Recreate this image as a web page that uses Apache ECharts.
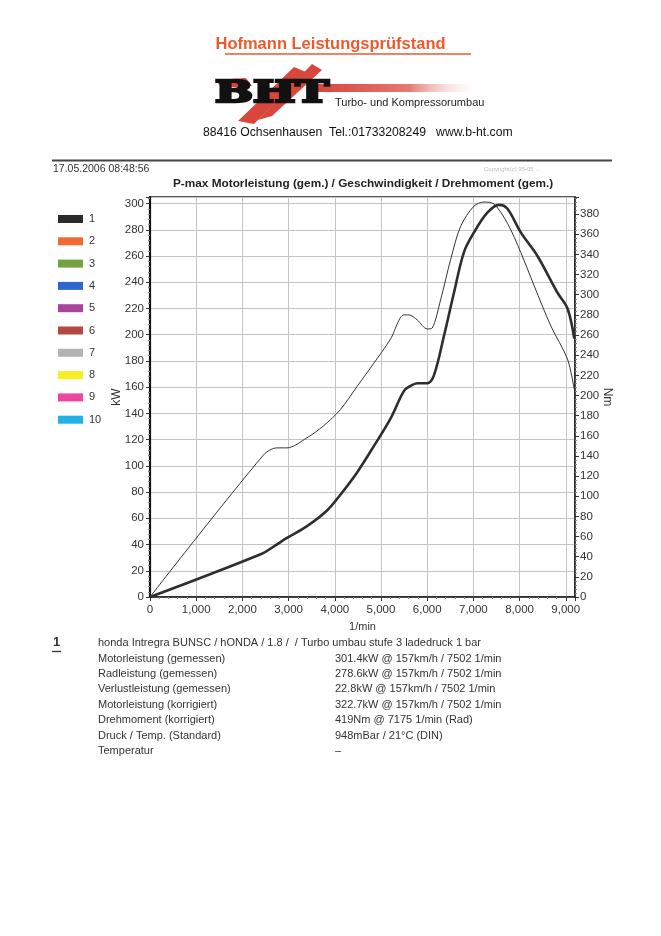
<!DOCTYPE html>
<html>
<head>
<meta charset="utf-8">
<script src="https://cdn.jsdelivr.net/npm/echarts@6/dist/echarts.min.js"></script>
<style>
html,body{margin:0;padding:0;background:#fff;}
#c{width:661px;height:936px;}
</style>
</head>
<body>
<div id="c"></div>
<script>
// ---- data ----
var powerRpm = [0, 2422, 2700, 2965, 3398, 3832, 4121, 4483, 4845, 5206, 5495, 5640, 5785, 6001, 6146, 6363, 6580, 6797, 7014, 7303, 7556, 7737, 8026, 8387, 8821, 9038, 9183];
var powerKw  = [0, 33, 39, 45, 54, 66, 78, 95, 115, 136, 157, 161, 163, 163, 169, 199, 232, 263, 278, 293, 299, 296, 278, 260, 232, 220, 197];
var torqueRpm = [0, 2458, 2747, 2965, 3398, 3760, 4121, 4483, 4845, 5206, 5495, 5604, 5784, 6001, 6110, 6291, 6508, 6725, 7014, 7231, 7448, 7737, 8026, 8315, 8677, 9038, 9183];
var torqueNm  = [0, 141, 148, 148, 158, 170, 186, 209, 232, 256, 280, 280, 275, 266, 267, 295, 335, 368, 388, 392, 390, 371, 342, 309, 269, 236, 206];
var legendNames  = ['1', '2', '3', '4', '5', '6', '7', '8', '9', '10'];
var legendColors = ['#2b2b2b', '#f06a32', '#74a23e', '#2f66cf', '#a8449a', '#b34a42', '#b4b4b4', '#f7ef24', '#ef44a2', '#22b2e6'];
var infoLabels = ['Motorleistung (gemessen)', 'Radleistung (gemessen)', 'Verlustleistung (gemessen)', 'Motorleistung (korrigiert)', 'Drehmoment (korrigiert)', 'Druck / Temp. (Standard)', 'Temperatur'];
var infoValues = ['301.4kW @ 157km/h / 7502 1/min', '278.6kW @ 157km/h / 7502 1/min', '22.8kW @ 157km/h / 7502 1/min', '322.7kW @ 157km/h / 7502 1/min', '419Nm @ 7175 1/min (Rad)', '948mBar / 21°C (DIN)', '–'];
var runTitle = 'honda Intregra BUNSC / hONDA / 1.8 /  / Turbo umbau stufe 3 ladedruck 1 bar';

var F = '"Liberation Sans", Arial, sans-serif';
var chart = echarts.init(document.getElementById('c'), null, {renderer: 'canvas'});

function pairs(xs, ys) { return xs.map(function (x, i) { return [x, ys[i]]; }); }

var series = [
  {name: legendNames[0], type: 'line', yAxisIndex: 0, data: pairs(powerRpm, powerKw), showSymbol: false, smooth: 0.35,
   color: legendColors[0], lineStyle: {color: '#2e2e2e', width: 2.6}, z: 5},
  {name: 'Drehmoment', type: 'line', yAxisIndex: 1, data: pairs(torqueRpm, torqueNm), showSymbol: false, smooth: 0.3,
   color: '#333', lineStyle: {color: '#333', width: 1}, z: 4}
];
for (var i = 1; i < legendNames.length; i++) {
  series.push({name: legendNames[i], type: 'line', data: [], color: legendColors[i]});
}

var graphics = [
  // header title
  {type: 'text', left: 'center', top: 36, style: {text: 'Hofmann Leistungsprüfstand', font: 'bold 16.5px ' + F, fill: '#ee5a2c'}, x: 24},
  {type: 'line', shape: {x1: 225, y1: 54, x2: 471, y2: 54}, style: {stroke: '#ee5a2c', lineWidth: 1.5}},
  // logo red swooshes
  {type: 'polygon', shape: {points: [[215, 80], [246, 78], [252, 86], [222, 88]]}, style: {fill: '#d8463c'}},
  {type: 'polygon', shape: {points: [[238, 121], [254, 124], [306, 72], [294, 67]]}, style: {fill: '#d8463c'}},
  {type: 'polygon', shape: {points: [[258, 120], [272, 116], [322, 70], [312, 64]]}, style: {fill: '#d8463c'}},
  {type: 'rect', shape: {x: 318, y: 84, width: 165, height: 8},
   style: {fill: new echarts.graphic.LinearGradient(0, 0, 1, 0, [{offset: 0, color: '#d8463c'}, {offset: 0.55, color: '#e47a70'}, {offset: 1, color: 'rgba(255,255,255,0)'}])}},
  {type: 'text', x: 215, y: 80, scaleX: 1.55, style: {text: 'BHT', font: 'bold 29px "DejaVu Serif", serif', fill: '#111', stroke: '#111', lineWidth: 2.4}},
  {type: 'text', x: 335, y: 97, style: {text: 'Turbo- und Kompressorumbau', font: '11px ' + F, fill: '#222'}},
  {type: 'text', x: 203, y: 127, style: {text: '88416 Ochsenhausen  Tel.:01733208249   www.b-ht.com', font: '12.2px ' + F, fill: '#111'}},
  // separator + date
  {type: 'line', shape: {x1: 52, y1: 160.5, x2: 612, y2: 160.5}, style: {stroke: '#444', lineWidth: 2}},
  {type: 'text', x: 53, y: 164, style: {text: '17.05.2006 08:48:56', font: '10.5px ' + F, fill: '#333'}},
  {type: 'text', x: 484, y: 166, style: {text: 'Copyright(c) 95-05 ...', font: '6px ' + F, fill: '#bbb'}},
  // chart title
  {type: 'text', x: 173, y: 178, style: {text: 'P-max Motorleistung (gem.) / Geschwindigkeit / Drehmoment (gem.)', font: 'bold 11.8px ' + F, fill: '#222'}},
  // axis unit names
  {type: 'text', x: 117, y: 397, rotation: Math.PI / 2, style: {text: 'kW', font: '12px ' + F, fill: '#333', align: 'center', verticalAlign: 'middle'}},
  {type: 'text', x: 607, y: 397, rotation: -Math.PI / 2, style: {text: 'Nm', font: '12px ' + F, fill: '#333', align: 'center', verticalAlign: 'middle'}},
  // run info
  {type: 'text', x: 53, y: 636, style: {text: '1', font: 'bold 13px ' + F, fill: '#333'}},
  {type: 'line', shape: {x1: 52, y1: 651.5, x2: 61, y2: 651.5}, style: {stroke: '#333', lineWidth: 1.3}},
  {type: 'text', x: 98, y: 637, style: {text: runTitle, font: '11px ' + F, fill: '#333'}}
];
for (var k = 0; k < infoLabels.length; k++) {
  graphics.push({type: 'text', x: 98, y: 653 + k * 15.4, style: {text: infoLabels[k], font: '11px ' + F, fill: '#333'}});
  graphics.push({type: 'text', x: 335, y: 653 + k * 15.4, style: {text: infoValues[k], font: '11px ' + F, fill: '#333'}});
}

chart.setOption({
  animation: false,
  backgroundColor: '#fff',
  textStyle: {fontFamily: F},
  grid: {left: 150, right: 86, top: 197, bottom: 339, show: true, borderColor: '#222', borderWidth: 1.5, backgroundColor: 'transparent'},
  legend: {
    data: legendNames, orient: 'vertical', left: 53, top: 207, itemWidth: 25, itemHeight: 8, itemGap: 8.3,
    icon: 'rect', selectedMode: false,
    textStyle: {fontSize: 11, color: '#333', lineHeight: 14, padding: [0, 0, 0, 1]}
  },
  xAxis: {
    type: 'value', min: 0, max: 9200, interval: 1000,
    name: '1/min', nameLocation: 'middle', nameGap: 24, nameTextStyle: {fontSize: 11, color: '#333'},
    axisLine: {lineStyle: {color: '#222', width: 1.5}},
    axisTick: {show: true, length: 4, lineStyle: {color: '#333'}},
    minorTick: {show: true, splitNumber: 5, length: 2, lineStyle: {color: '#888'}},
    axisLabel: {fontSize: 11.5, color: '#333', margin: 7,
      formatter: function (v) { return v % 1000 === 0 ? (v >= 1000 ? Math.floor(v / 1000) + ',000' : '0') : ''; }},
    splitLine: {show: true, lineStyle: {color: '#c4c4c4', width: 1}}
  },
  yAxis: [
    {type: 'value', min: 0, max: 305, interval: 20, position: 'left',
     axisLine: {show: true, lineStyle: {color: '#111', width: 2.2}},
     axisTick: {show: true, length: 4, lineStyle: {color: '#333'}},
     minorTick: {show: true, splitNumber: 5, length: 2, lineStyle: {color: '#888'}},
     axisLabel: {fontSize: 11.5, color: '#333', margin: 6, formatter: function (v) { return v % 20 === 0 ? String(v) : ''; }},
     splitLine: {show: true, lineStyle: {color: '#c4c4c4', width: 1}}},
    {type: 'value', min: 0, max: 397, interval: 20, position: 'right',
     axisLine: {show: true, lineStyle: {color: '#222', width: 1.5}},
     axisTick: {show: true, length: 4, lineStyle: {color: '#333'}},
     minorTick: {show: true, splitNumber: 5, length: 2, lineStyle: {color: '#888'}},
     axisLabel: {fontSize: 11.5, color: '#333', margin: 5, formatter: function (v) { return v % 20 === 0 ? String(v) : ''; }},
     splitLine: {show: false}}
  ],
  series: series,
  graphic: graphics
});
</script>
</body>
</html>
